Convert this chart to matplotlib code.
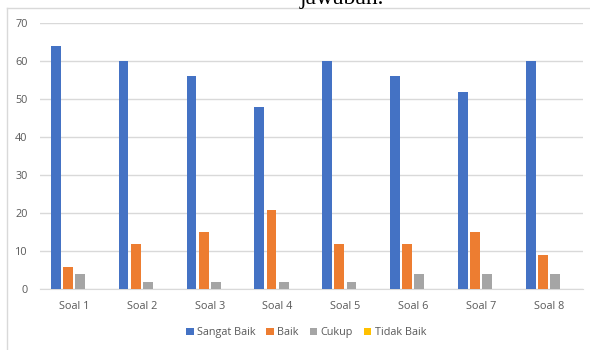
import numpy as np
import matplotlib.pyplot as plt
from matplotlib.lines import Line2D

soal = ['Soal 1', 'Soal 2', 'Soal 3', 'Soal 4', 'Soal 5', 'Soal 6', 'Soal 7', 'Soal 8']
sangat_baik = [64, 60, 56, 48, 60, 56, 52, 60]
baik = [6, 12, 15, 21, 12, 12, 15, 9]
cukup = [4, 2, 2, 2, 2, 4, 4, 4]
tidak_baik = [0, 0, 0, 0, 0, 0, 0, 0]

series = [('Sangat Baik', sangat_baik, '#4472C4'),
          ('Baik', baik, '#ED7D31'),
          ('Cukup', cukup, '#A5A5A5'),
          ('Tidak Baik', tidak_baik, '#FFC000')]

plt.rcParams['font.family'] = ['Open Sans', 'DejaVu Sans']
txt = '#595959'
grid = '#d9d9d9'

fig = plt.figure(figsize=(5.9, 3.5), dpi=100)
ax = fig.add_axes([0.068, 0.173, 0.920, 0.761])

x = np.arange(len(soal))
w = 0.145
step = 0.18
for i, (name, vals, col) in enumerate(series):
    ax.bar(x + (i - 1.5) * step, vals, width=w, color=col, label=name, zorder=3)

ax.set_xlim(-0.5, len(soal) - 0.5)
ax.set_ylim(0, 70)
ax.set_yticks(range(0, 71, 10))
ax.set_xticks(x)
ax.set_xticklabels(soal)
ax.tick_params(axis='both', length=0, labelsize=7.8, colors=txt)
ax.tick_params(axis='y', pad=9)
ax.tick_params(axis='x', pad=8)
ax.grid(axis='y', color=grid, linewidth=1, zorder=0)
for s in ['top', 'right', 'left']:
    ax.spines[s].set_visible(False)
ax.spines['bottom'].set_color(grid)

ax.legend(loc='center', bbox_to_anchor=(0.49, -0.163), ncol=4, frameon=False,
          fontsize=7.8, labelcolor=txt, handlelength=0.7, handleheight=0.7,
          handletextpad=0.3, columnspacing=1.0)

# chart frame (top and left edges visible)
fig.add_artist(Line2D([7 / 590, 1.0], [1 - 8 / 350, 1 - 8 / 350], color=grid, lw=1))
fig.add_artist(Line2D([7 / 590, 7 / 590], [0, 1 - 8 / 350], color=grid, lw=1))

# text from the surrounding document, cut off at the top
fig.text(300 / 590, 1 - 4 / 350, 'jawaban.', family='Liberation Serif', fontsize=17,
         color='black', ha='left', va='baseline')

fig.savefig('out.png', dpi=100)
